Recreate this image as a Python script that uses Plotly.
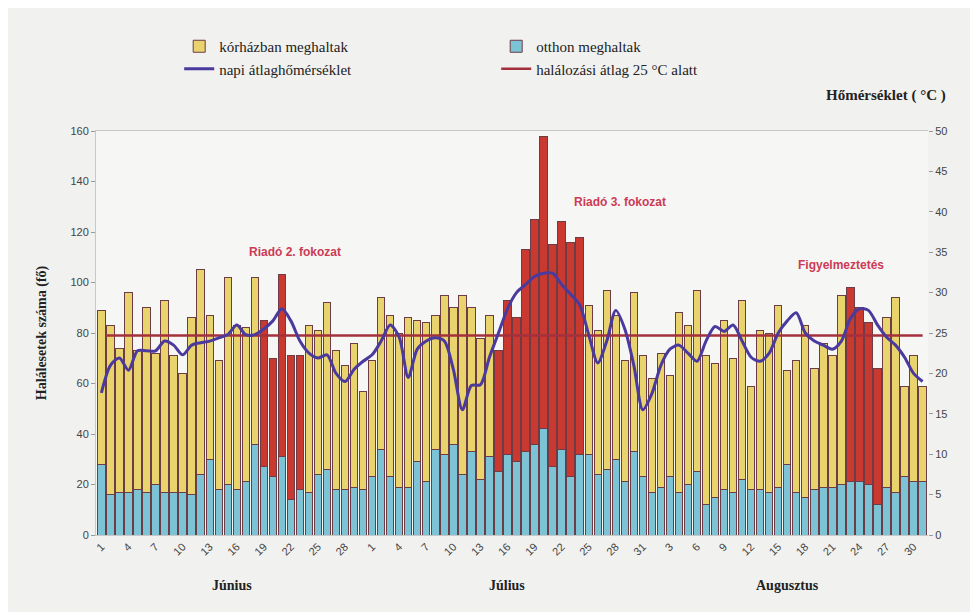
import plotly.graph_objects as go

# ---- data ----
months = ["Június", "Július", "Augusztus"]
month_lengths = [30, 31, 31]

# total deaths per day (hospital + home)
total_june = [89, 83, 74, 96, 73, 90, 72, 93, 71, 64, 86, 105, 87, 69, 102,
              83, 82, 102, 85, 70, 103, 71, 71, 83, 81, 92, 73, 67, 76, 57]
total_july = [69, 94, 87, 80, 86, 85, 84, 87, 95, 90, 95, 90, 78, 87, 73,
              93, 86, 113, 125, 158, 115, 124, 116, 118, 91, 81, 97, 87, 69, 96, 71]
total_aug = [62, 72, 63, 88, 83, 97, 71, 68, 85, 70, 93, 59, 81, 80, 91,
             65, 69, 83, 66, 76, 71, 95, 98, 90, 84, 66, 86, 94, 59, 71, 59]

# deaths at home
home_june = [28, 16, 17, 17, 18, 17, 20, 17, 17, 17, 16, 24, 30, 18, 20,
             18, 21, 36, 27, 23, 31, 14, 18, 17, 24, 26, 18, 18, 19, 18]
home_july = [23, 34, 23, 19, 19, 29, 21, 34, 32, 36, 24, 33, 22, 31, 25,
             32, 29, 33, 36, 42, 27, 34, 23, 32, 32, 24, 26, 30, 21, 33, 23]
home_aug = [17, 19, 23, 17, 20, 25, 12, 15, 18, 17, 22, 18, 18, 17, 19,
            28, 17, 15, 18, 19, 19, 20, 21, 21, 20, 12, 19, 17, 23, 21, 21]

# daily mean temperature (°C)
temp_june = [17.6, 21, 21.9, 20.4, 22.8, 22.8, 22.8, 24, 23.5, 22.3, 23.5, 23.8, 24, 24.4, 24.8,
             26, 24.8, 24.8, 25.5, 26.5, 28, 26.5, 24, 22.5, 21.9, 22.3, 20, 19, 20.5, 21.5]
temp_july = [22.3, 24, 26, 24.5, 19.5, 23, 24, 24.4, 24, 20.5, 15.5, 18.5, 18.6, 22, 25,
             28, 30, 31, 32, 32.4, 32.4, 31, 29.8, 28.5, 24.8, 21.3, 24, 27.8, 25.5, 21, 15.5]
temp_aug = [17.5, 21, 23, 23.5, 22.5, 21.5, 24, 25.8, 25.2, 26, 24, 22, 21.5, 22.5, 25,
            26.5, 27.5, 25, 24, 23.5, 23, 24, 26.8, 28, 27.8, 26, 24.5, 23.5, 22, 20, 19]

# heat-alert days (1 = alert period, red bars)
alert_june = [0] * 18 + [1] * 5 + [0] * 7
alert_july = [0] * 14 + [1] * 10 + [0] * 7
alert_aug = [0] * 22 + [1] * 4 + [0] * 5

baseline_deaths = 79  # halálozási átlag 25 °C alatt

alert_labels = ["Riadó 2. fokozat", "Riadó 3. fokozat", "Figyelmeztetés"]

# ---- derived ----
total = total_june + total_july + total_aug
home = home_june + home_july + home_aug
hospital = [t - h for t, h in zip(total, home)]
temp = temp_june + temp_july + temp_aug
alert = alert_june + alert_july + alert_aug
day_of_month = [d for n in month_lengths for d in range(1, n + 1)]
x = list(range(len(total)))

hosp_colors = ["#c9392f" if a else "#e9d36c" for a in alert]

serif = "Liberation Serif, Times New Roman, serif"
sans = "Liberation Sans, Arial, sans-serif"

fig = go.Figure()

fig.add_trace(go.Bar(
    x=x, y=home, name="otthon meghaltak",
    marker=dict(color="#7cc3d6", line=dict(color="#6c3d47", width=1)),
    legendrank=2,
))
fig.add_trace(go.Bar(
    x=x, y=hospital, name="kórházban meghaltak",
    marker=dict(color=hosp_colors, line=dict(color="#6c3d47", width=1)),
    legendrank=1,
))
fig.add_trace(go.Scatter(
    x=x, y=temp, name="napi átlaghőmérséklet", yaxis="y2",
    mode="lines", line=dict(color="#4a3a9e", width=3, shape="spline", smoothing=0.8),
    legendrank=3,
))
fig.add_trace(go.Scatter(
    x=[x[0] + 0.5, x[-1]], y=[baseline_deaths, baseline_deaths],
    name="halálozási átlag 25 °C alatt",
    mode="lines", line=dict(color="#a3303c", width=2.5),
    legendrank=4,
))

tickvals = x[::3]
ticktext = [str(day_of_month[i]) for i in tickvals]

# month label positions: middle of each month
month_centers = []
start = 0
for n in month_lengths:
    month_centers.append(start + (n - 1) / 2)
    start += n

annotations = []
for m, c in zip(months, month_centers):
    annotations.append(dict(
        x=c, y=-0.125, xref="x", yref="paper", text="<b>" + m + "</b>", showarrow=False,
        font=dict(family=serif, size=14, color="#222"), yanchor="middle"))

# alert labels, placed above their alert periods
alert_pos = [(21.5, 112), (57.5, 132), (82, 107)]
for lbl, (ax, ay) in zip(alert_labels, alert_pos):
    annotations.append(dict(
        x=ax, y=ay, xref="x", yref="y", text="<b>" + lbl + "</b>", showarrow=False,
        font=dict(family=sans, size=12, color="#cc3a55")))

annotations.append(dict(
    x=0.875, y=1.087, xref="paper", yref="paper", text="<b>Hőmérséklet ( °C )</b>",
    showarrow=False, xanchor="left", yanchor="middle",
    font=dict(family=serif, size=15, color="#222")))

fig.update_layout(
    width=978, height=612,
    margin=dict(l=88, r=58, t=123, b=85),
    paper_bgcolor="#f1f1ef",
    plot_bgcolor="#f6f6f4",
    barmode="stack",
    bargap=0.18,
    showlegend=True,
    legend=dict(
        orientation="h", x=0.10, y=1.25, xanchor="left", yanchor="top",
        traceorder="normal",
        entrywidth=272, entrywidthmode="pixels",
        font=dict(family=serif, size=15, color="#222"),
        bgcolor="rgba(0,0,0,0)", itemwidth=30,
    ),
    xaxis=dict(
        range=[-0.6, len(x) - 0.4], tickmode="array", tickvals=tickvals, ticktext=ticktext,
        tickangle=-45, tickfont=dict(family=sans, size=11, color="#444"),
        showgrid=False, zeroline=False, showline=True, linecolor="#c8c8c8", mirror=True,
        ticks="",
    ),
    yaxis=dict(
        range=[0, 160], dtick=20, tickfont=dict(family=sans, size=11, color="#444"),
        showgrid=False, zeroline=False, showline=True, linecolor="#c8c8c8",
        ticks="outside", tickcolor="#999", ticklen=4,
        title=dict(text="<b>Halálesetek száma (fő)</b>", font=dict(family=serif, size=14, color="#222"),
                   standoff=20),
    ),
    yaxis2=dict(
        range=[0, 50], dtick=5, overlaying="y", side="right",
        tickfont=dict(family=sans, size=11, color="#444"),
        showgrid=False, zeroline=False, showline=False,
        ticks="outside", tickcolor="#999", ticklen=4,
    ),
    annotations=annotations,
)

fig.write_html("out.html")
